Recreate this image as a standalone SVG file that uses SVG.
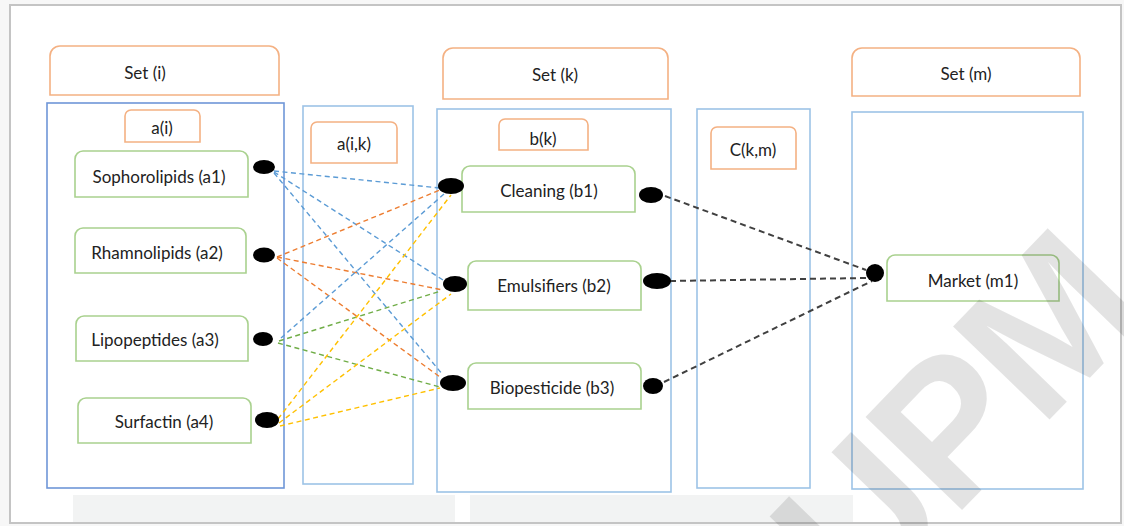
<svg xmlns="http://www.w3.org/2000/svg" width="1124" height="526" viewBox="0 0 1124 526">
<defs>
<style>
.frame{fill:#ffffff;stroke:#c4c4c4;stroke-width:2}
.col{fill:none;stroke:#9dc3e6;stroke-width:1.6}
.colD{fill:none;stroke:#6f96d8;stroke-width:1.6}
.or{fill:#ffffff;stroke:#f4b183;stroke-width:1.6}
.gr{fill:#ffffff;stroke:#a9d18e;stroke-width:1.6}
.t{font-family:Lato,"Open Sans",sans-serif;font-size:17px;fill:#222222;text-anchor:middle;dominant-baseline:central}
.dot{fill:#000000}
.c{fill:none;stroke-width:1.4;stroke-dasharray:5 3.5}
.cb{stroke:#5b9bd5}
.co{stroke:#ed7d31}
.cg{stroke:#70ad47}
.cy{stroke:#ffc000}
.ck{fill:none;stroke:#404040;stroke-width:2;stroke-dasharray:6 4}
.wm{font-family:"Liberation Sans",Arial,sans-serif;font-weight:bold;font-size:195px;fill:#000000;fill-opacity:0.11}
</style>
</defs>
<rect x="0" y="0" width="1124" height="526" fill="#f7f7f7"/>
<rect class="frame" x="10" y="5" width="1111" height="518"/>
<rect x="73" y="495" width="382" height="27" fill="#f2f3f3"/>
<rect x="470" y="495" width="383" height="27" fill="#f2f3f3"/>

<g id="containers">
<rect class="colD" x="47" y="103" width="237" height="385"/>
<rect class="col" x="303" y="106" width="110" height="378"/>
<rect class="col" x="437" y="109" width="234" height="383"/>
<rect class="col" x="697" y="109" width="113" height="379"/>
<rect class="col" x="852" y="112" width="231" height="377"/>
</g>

<g id="set-i"><path class="or" d="M50,95 V56 A10,10 0 0 1 60,46 H269 A10,10 0 0 1 279,56 V95 Z"/><text class="t" x="145" y="72">Set (i)</text></g>
<g id="set-k"><path class="or" d="M443,99 V58 A10,10 0 0 1 453,48 H658 A10,10 0 0 1 668,58 V99 Z"/><text class="t" x="555" y="74">Set (k)</text></g>
<g id="set-m"><path class="or" d="M852,96 V58 A10,10 0 0 1 862,48 H1070 A10,10 0 0 1 1080,58 V96 Z"/><text class="t" x="966" y="73">Set (m)</text></g>
<g id="a-i"><path class="or" d="M125,142 V116 A6,6 0 0 1 131,110 H194 A6,6 0 0 1 200,116 V142 Z"/><text class="t" x="162" y="127">a(i)</text></g>
<g id="a-ik"><path class="or" d="M311,163 V128 A6,6 0 0 1 317,122 H391 A6,6 0 0 1 397,128 V163 Z"/><text class="t" x="354" y="143">a(i,k)</text></g>
<g id="b-k"><path class="or" d="M499,150 V125 A6,6 0 0 1 505,119 H582 A6,6 0 0 1 588,125 V150 Z"/><text class="t" x="543" y="138">b(k)</text></g>
<g id="c-km"><path class="or" d="M711,169 V133 A6,6 0 0 1 717,127 H790 A6,6 0 0 1 796,133 V169 Z"/><text class="t" x="753" y="149">C(k,m)</text></g>

<g id="a1"><path class="gr" d="M75,197 V159 A8,8 0 0 1 83,151 H240 A8,8 0 0 1 248,159 V197 Z"/><text class="t" x="159" y="176">Sophorolipids (a1)</text></g>
<g id="a2"><path class="gr" d="M75,273 V236 A8,8 0 0 1 83,228 H238 A8,8 0 0 1 246,236 V273 Z"/><text class="t" x="157" y="252">Rhamnolipids (a2)</text></g>
<g id="a3"><path class="gr" d="M76,361 V324 A8,8 0 0 1 84,316 H240 A8,8 0 0 1 248,324 V361 Z"/><text class="t" x="155" y="339">Lipopeptides (a3)</text></g>
<g id="a4"><path class="gr" d="M78,443 V406 A8,8 0 0 1 86,398 H243 A8,8 0 0 1 251,406 V443 Z"/><text class="t" x="164" y="421">Surfactin (a4)</text></g>
<g id="b1"><path class="gr" d="M462,212 V174 A8,8 0 0 1 470,166 H627 A8,8 0 0 1 635,174 V212 Z"/><text class="t" x="549" y="190">Cleaning (b1)</text></g>
<g id="b2"><path class="gr" d="M468,310 V269 A8,8 0 0 1 476,261 H633 A8,8 0 0 1 641,269 V310 Z"/><text class="t" x="554" y="285">Emulsifiers (b2)</text></g>
<g id="b3"><path class="gr" d="M468,409 V371 A8,8 0 0 1 476,363 H633 A8,8 0 0 1 641,371 V409 Z"/><text class="t" x="552" y="387">Biopesticide (b3)</text></g>
<g id="m1"><path class="gr" d="M887,301 V263 A8,8 0 0 1 895,255 H1051 A8,8 0 0 1 1059,263 V301 Z"/><text class="t" x="973" y="280">Market (m1)</text></g>

<g id="connectors">
<line class="c cb" x1="274" y1="171" x2="440" y2="188"/>
<line class="c cb" x1="274" y1="172" x2="443" y2="280"/>
<line class="c cb" x1="274" y1="173" x2="443" y2="375"/>
<line class="c co" x1="277" y1="257" x2="440" y2="190"/>
<line class="c co" x1="277" y1="257" x2="443" y2="290"/>
<line class="c co" x1="277" y1="258" x2="440" y2="377"/>
<line class="c cb" x1="281" y1="338" x2="444" y2="194"/>
<line class="c cg" x1="279" y1="341" x2="441" y2="291"/>
<line class="c cg" x1="278" y1="343" x2="440" y2="387"/>
<line class="c cy" x1="278" y1="419" x2="451" y2="195"/>
<line class="c cy" x1="279" y1="423" x2="451" y2="294"/>
<line class="c cy" x1="280" y1="426" x2="440" y2="388"/>
<line class="ck" x1="665" y1="196" x2="866" y2="270"/>
<line class="ck" x1="670" y1="281" x2="866" y2="278"/>
<line class="ck" x1="664" y1="382" x2="872" y2="281"/>
</g>

<g id="dots">
<ellipse class="dot" cx="264" cy="167" rx="11" ry="7"/>
<ellipse class="dot" cx="264" cy="255" rx="11" ry="7.5"/>
<ellipse class="dot" cx="263" cy="339" rx="10" ry="7"/>
<ellipse class="dot" cx="267" cy="420" rx="12" ry="8"/>
<ellipse class="dot" cx="451" cy="186" rx="13" ry="8"/>
<ellipse class="dot" cx="455" cy="284" rx="12" ry="8"/>
<ellipse class="dot" cx="453" cy="383" rx="13" ry="8"/>
<ellipse class="dot" cx="651" cy="195" rx="12" ry="8"/>
<ellipse class="dot" cx="657" cy="281" rx="14" ry="8"/>
<ellipse class="dot" cx="653" cy="386" rx="10" ry="8"/>
<ellipse class="dot" cx="875" cy="273" rx="9" ry="9"/>
</g>

<text class="wm" x="858" y="618" letter-spacing="-4" transform="rotate(-46 858 618)">UPM</text>
</svg>
